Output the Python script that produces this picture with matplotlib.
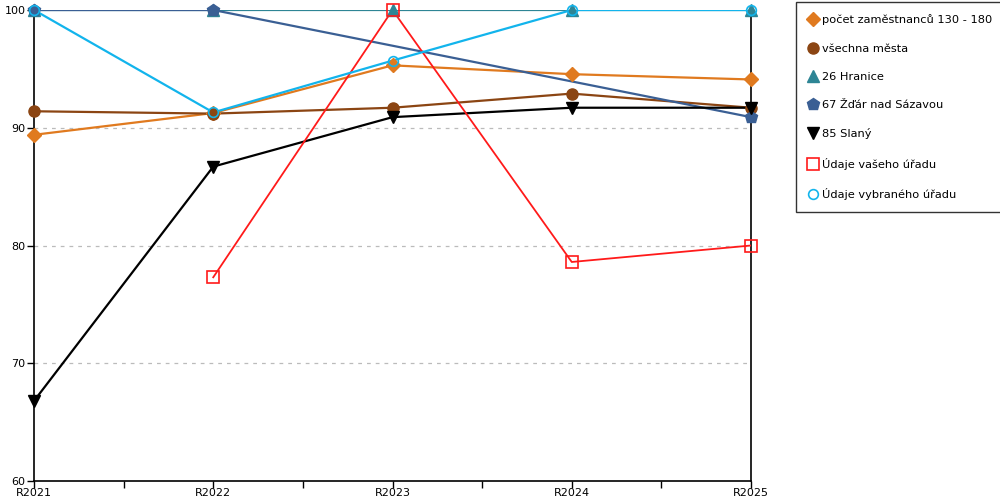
import numpy as np
import matplotlib
matplotlib.use("Agg")
import matplotlib.pyplot as plt
from matplotlib.lines import Line2D

years = ["R2021", "R2022", "R2023", "R2024", "R2025"]

pocet = [89.4, 91.25, 95.3, 94.55, 94.1]
vsechna = [91.4, 91.2, 91.7, 92.9, 91.7]
hranice = [100, 100, 100, 100, 100]
zdar = [100, 100, None, None, 90.9]
slany = [66.8, 86.7, 90.9, 91.7, 91.7]
vaseho = [None, 77.3, 100, 78.6, 80.0]
vybraneho = [100, 91.3, 95.7, 100, 100]

series = [
    ("počet zaměstnanců 130 - 180", pocet, "#E07A1F", "D", 7, True),
    ("všechna města", vsechna, "#8B4513", "o", 8, True),
    ("26 Hranice", hranice, "#2E8595", "^", 8, True),
    ("67 Žďár nad Sázavou", zdar, "#3A5F94", "p", 9, True),
    ("85 Slaný", slany, "#000000", "v", 9, True),
    ("Údaje vašeho úřadu", vaseho, "#FF1A1A", "s", 8, False),
    ("Údaje vybraného úřadu", vybraneho, "#12B4EC", "o", 7, False),
]

fig = plt.figure(figsize=(10, 5), dpi=100)
ax = fig.add_axes([0.034, 0.038, 0.717, 0.942])

x = np.arange(len(years))
handles = []
for name, vals, color, marker, ms, filled in series:
    xs = [xi for xi, v in zip(x, vals) if v is not None]
    ys = [v for v in vals if v is not None]
    lw = 1.3 if color == "#FF1A1A" else 1.6
    ax.plot(xs, ys, color=color, lw=lw, zorder=3)
    if filled:
        ax.plot(xs, ys, ls="none", marker=marker, ms=ms, color=color,
                mec=color, zorder=4, clip_on=False)
        h = Line2D([], [], ls="none", marker=marker, ms=ms, color=color, mec=color)
    else:
        ax.plot(xs, ys, ls="none", marker=marker, ms=ms, mfc="none",
                mec=color, mew=1.2, zorder=4, clip_on=False)
        h = Line2D([], [], ls="none", marker=marker, ms=ms, mfc="none",
                   mec=color, mew=1.2)
    handles.append((h, name))

ax.set_xlim(0, 4)
ax.set_ylim(60, 100)
ax.set_xticks(x)
ax.set_xticklabels(years)
ax.set_xticks([0.5, 1.5, 2.5, 3.5], minor=True)
ax.set_yticks([60, 70, 80, 90, 100])
ax.tick_params(axis="both", labelsize=8, length=5, width=1, direction="out", pad=1)
ax.tick_params(axis="x", pad=0)
ax.tick_params(axis="x", which="minor", length=5, width=1)
for yv in [70, 80, 90]:
    ax.axhline(yv, color="#BBBBBB", lw=0.9, ls=(0, (3, 4)), zorder=1)

ax.spines["top"].set_visible(False)
for s in ["left", "bottom", "right"]:
    ax.spines[s].set_linewidth(1.2)
    ax.spines[s].set_color("black")

leg = fig.legend([h for h, _ in handles], [n for _, n in handles],
                 loc="upper left", bbox_to_anchor=(0.796, 0.996),
                 fontsize=8.2, frameon=True, fancybox=False, edgecolor="black",
                 handlelength=0.8, handletextpad=0.4, labelspacing=1.6,
                 borderpad=1.1, borderaxespad=0)
leg.get_frame().set_linewidth(1.0)

fig.savefig("out.png", dpi=100)
